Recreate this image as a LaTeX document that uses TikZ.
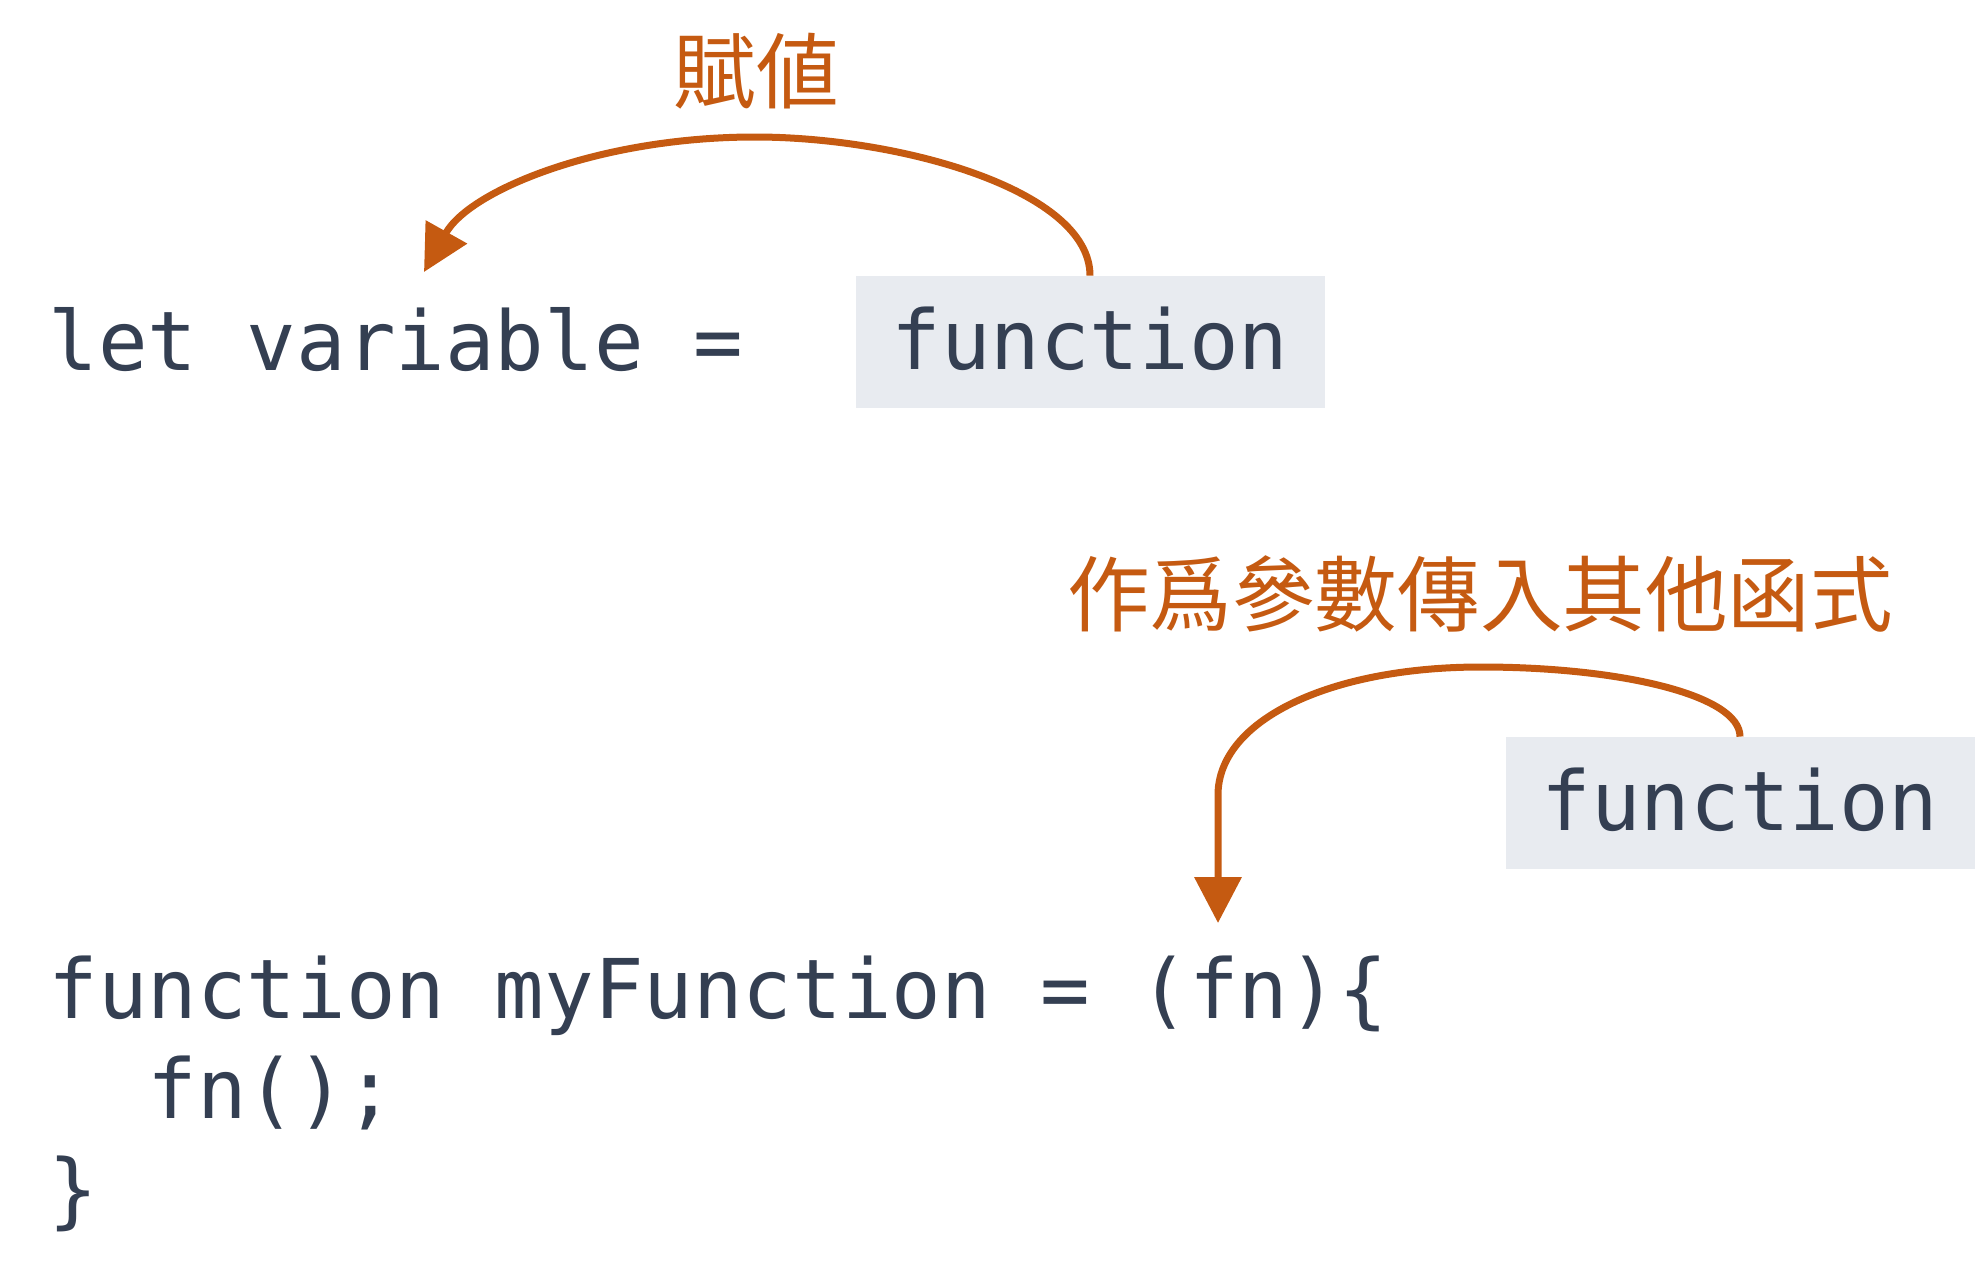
\documentclass[tikz,border=0pt]{standalone}
\usepackage{fontspec}
\setmonofont{DejaVu Sans Mono}
\newfontfamily\cjk{Noto Sans CJK TC}
\usetikzlibrary{arrows.meta}
\definecolor{ink}{HTML}{343F52}
\definecolor{boxgray}{HTML}{E8EBF0}
\definecolor{accent}{HTML}{C55A11}
\tikzset{
  code/.style={font=\ttfamily\fontsize{41.2pt}{50pt}\selectfont, text=ink, inner sep=0pt, anchor=base west},
  fnbox/.style={font=\ttfamily\fontsize{41.2pt}{50pt}\selectfont, text=ink, fill=boxgray,
    minimum width=234.5pt, text height=46.5pt, text depth=19.5pt, inner xsep=0pt, inner ysep=0pt, anchor=base},
  lbl/.style={font=\cjk\fontsize{41.3pt}{45pt}\selectfont, text=accent, inner sep=0pt},
  conn/.style={draw=accent, line width=3.5pt, -{Triangle[length=23pt,width=23pt]}}
}
\begin{document}
\begin{tikzpicture}[x=0.5pt,y=-0.5pt]
\useasboundingbox (0,0) rectangle (1976,1286);
% first example
\node[code] (let) at (48,370) {let variable =};
\node[fnbox] (fa) at (1090,369) {function};
\node[lbl] (assign) at (756,71) {賦値};
\coordinate (tipa) at (424,272);
\draw[conn] (fa.north) .. controls (1090,190) and (900,137) .. (755,137)
  .. controls (600,137) and (470,190) .. (tipa);
% second example
\node[lbl] (pass) at (1480,594) {作爲參數傳入其他函式};
\node[fnbox] (fb) at (1740,830) {function};
\node[code] (c1) at (48,1018) {function myFunction = (fn)\{};
\node[code] (c2) at (147,1118) {fn();};
\node[code] (c3) at (48,1218) {\}};
\coordinate (tipb) at (1218,923);
\draw[conn] (fb.north) .. controls (1740,695) and (1620,667) .. (1481,667)
  .. controls (1330,667) and (1218,720) .. (1218,795) -- (tipb);
\end{tikzpicture}
\end{document}
